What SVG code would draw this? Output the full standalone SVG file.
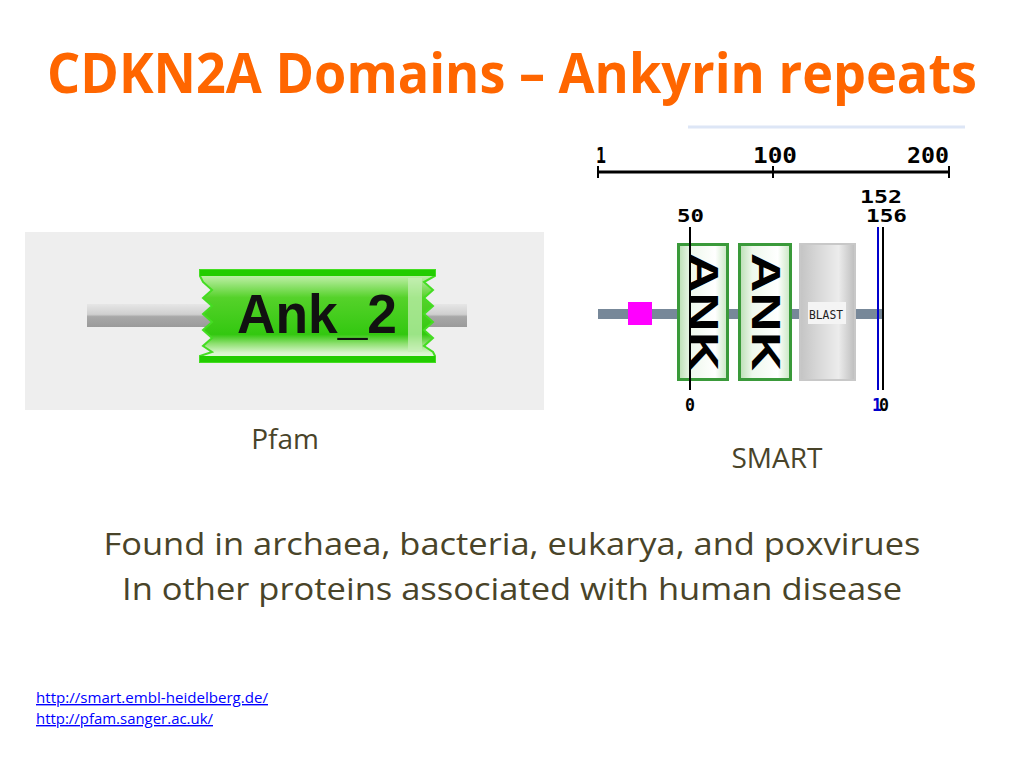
<svg xmlns="http://www.w3.org/2000/svg" width="1024" height="768" viewBox="0 0 1024 768">
<defs>
<style>
.title{font-family:"Open Sans","Liberation Sans",sans-serif;font-weight:bold;fill:#ff6600}
.body{font-family:"Open Sans","Liberation Sans",sans-serif;fill:#494429}
.px{font-family:"DejaVu Sans Mono","Liberation Mono",monospace;font-weight:bold;fill:#000}
.link{font-family:"Open Sans","Liberation Sans",sans-serif;font-size:14px;fill:#0000ff;text-decoration:underline}
</style>
<linearGradient id="bar" x1="0" y1="0" x2="0" y2="1">
<stop offset="0" stop-color="#e6e6e6"/><stop offset="0.45" stop-color="#cfcfcf"/><stop offset="0.55" stop-color="#a8a8a8"/><stop offset="1" stop-color="#9a9a9a"/>
</linearGradient>
<linearGradient id="grn" x1="0" y1="0" x2="0" y2="1">
<stop offset="0" stop-color="#d6f5c8"/><stop offset="0.12" stop-color="#a6e88a"/><stop offset="0.3" stop-color="#55d22a"/><stop offset="0.7" stop-color="#33c810"/><stop offset="0.8" stop-color="#8ee070"/><stop offset="0.9" stop-color="#d8f5cc"/><stop offset="1" stop-color="#f2fcee"/>
</linearGradient>
<linearGradient id="ank" x1="0" y1="0" x2="1" y2="0">
<stop offset="0" stop-color="#b9deb3"/><stop offset="0.25" stop-color="#eef8ec"/><stop offset="0.75" stop-color="#ffffff"/><stop offset="1" stop-color="#c8e6c2"/>
</linearGradient>
<linearGradient id="blast" x1="0" y1="0" x2="1" y2="0">
<stop offset="0" stop-color="#c4c4c4"/><stop offset="0.3" stop-color="#d6d6d6"/><stop offset="0.7" stop-color="#ececec"/><stop offset="1" stop-color="#bdbdbd"/>
</linearGradient>
</defs>
<rect width="1024" height="768" fill="#ffffff"/>

<text class="title" x="47" y="93" font-size="56" textLength="930" lengthAdjust="spacingAndGlyphs">CDKN2A Domains – Ankyrin repeats</text>

<line x1="688" y1="127" x2="965" y2="127" stroke="#dde6f6" stroke-width="3"/>

<g id="pfam">
<rect x="25" y="232" width="519" height="178" fill="#eeeeee"/>
<rect x="87" y="304" width="380" height="23" fill="url(#bar)"/>
<path d="M200,270 L435,270 L435,276 L424,282 L433,290 L424,298 L433,306 L424,314 L433,322 L424,330 L433,338 L424,346 L433,352 L435,356 L435,362 L200,362 L200,356 L212,352 L203,346 L212,338 L203,330 L212,322 L203,314 L212,306 L203,298 L212,290 L203,282 L200,276 Z" fill="url(#grn)" stroke="#44dd22" stroke-width="2"/>
<rect x="200" y="270" width="235" height="6" fill="#22cc00"/>
<rect x="200" y="356" width="235" height="6" fill="#22cc00"/>
<rect x="408" y="278" width="14" height="74" fill="#c8f0b8" opacity="0.7"/>
<text x="237" y="333" font-family="Liberation Sans, Arial, sans-serif" font-weight="bold" font-size="56" textLength="160" lengthAdjust="spacingAndGlyphs" fill="#111">Ank_2</text>
<text x="285" y="449" class="body" font-size="28" text-anchor="middle">Pfam</text>
</g>

<g id="smart">
<g id="scale">
<text class="px" x="596" y="163" font-size="21" textLength="10" lengthAdjust="spacingAndGlyphs">1</text>
<text class="px" x="753" y="163" font-size="21" textLength="44" lengthAdjust="spacingAndGlyphs">100</text>
<text class="px" x="907" y="163" font-size="21" textLength="42" lengthAdjust="spacingAndGlyphs">200</text>
<line x1="598" y1="172" x2="949" y2="172" stroke="#000" stroke-width="3"/>
<line x1="598" y1="166" x2="598" y2="178" stroke="#000" stroke-width="2"/>
<line x1="773" y1="166" x2="773" y2="178" stroke="#000" stroke-width="2"/>
<line x1="949" y1="166" x2="949" y2="178" stroke="#000" stroke-width="2"/>
</g>
<rect x="598" y="309" width="284" height="10" fill="#778899"/>
<rect x="628" y="302" width="24" height="23" fill="#ff00ff"/>
<g id="ank1">
<rect x="678.5" y="244.5" width="49" height="135" fill="url(#ank)" stroke="#3a9a3a" stroke-width="3"/>
<text transform="translate(690,253) rotate(90)" font-family="Liberation Sans, Arial, sans-serif" font-weight="bold" font-size="40" textLength="118" lengthAdjust="spacingAndGlyphs" fill="#000">ANK</text>
</g>
<g id="ank2">
<rect x="739.5" y="244.5" width="51" height="135" fill="url(#ank)" stroke="#3a9a3a" stroke-width="3"/>
<text transform="translate(752,253) rotate(90)" font-family="Liberation Sans, Arial, sans-serif" font-weight="bold" font-size="40" textLength="118" lengthAdjust="spacingAndGlyphs" fill="#000">ANK</text>
</g>
<g id="blast">
<rect x="800" y="244" width="55" height="136" fill="url(#blast)" stroke="#c8c8c8" stroke-width="2"/>
<rect x="808" y="302" width="38" height="22" fill="#f4f4f4"/>
<text x="809" y="319" font-family="DejaVu Sans Mono, monospace" font-size="13" textLength="34" lengthAdjust="spacingAndGlyphs" fill="#222">BLAST</text>
</g>
<line x1="690" y1="227" x2="690" y2="390" stroke="#000" stroke-width="2"/>
<line x1="878" y1="227" x2="878" y2="390" stroke="#0000cc" stroke-width="2"/>
<line x1="883" y1="227" x2="883" y2="390" stroke="#000" stroke-width="2"/>
<text class="px" x="677" y="222" font-size="18" textLength="27" lengthAdjust="spacingAndGlyphs">50</text>
<text class="px" x="860" y="203" font-size="18" textLength="42" lengthAdjust="spacingAndGlyphs">152</text>
<text class="px" x="866" y="222" font-size="18" textLength="41" lengthAdjust="spacingAndGlyphs">156</text>
<text class="px" x="685" y="411" font-size="17" textLength="10" lengthAdjust="spacingAndGlyphs">0</text>
<text class="px" x="879" y="411" font-size="17" textLength="10" lengthAdjust="spacingAndGlyphs">0</text>
<text class="px" x="872" y="411" font-size="17" textLength="10" lengthAdjust="spacingAndGlyphs" style="fill:#0000cc">1</text>
<text x="777" y="468" class="body" font-size="28" text-anchor="middle">SMART</text>
</g>

<text class="body" x="512" y="555" font-size="31" text-anchor="middle" textLength="817" lengthAdjust="spacingAndGlyphs">Found in archaea, bacteria, eukarya, and poxvirues</text>
<text class="body" x="512" y="600" font-size="31" text-anchor="middle" textLength="780" lengthAdjust="spacingAndGlyphs">In other proteins associated with human disease</text>

<text class="link" x="36" y="703" textLength="232" lengthAdjust="spacingAndGlyphs">http://smart.embl-heidelberg.de/</text>
<text class="link" x="36" y="724" textLength="177" lengthAdjust="spacingAndGlyphs">http://pfam.sanger.ac.uk/</text>
</svg>
